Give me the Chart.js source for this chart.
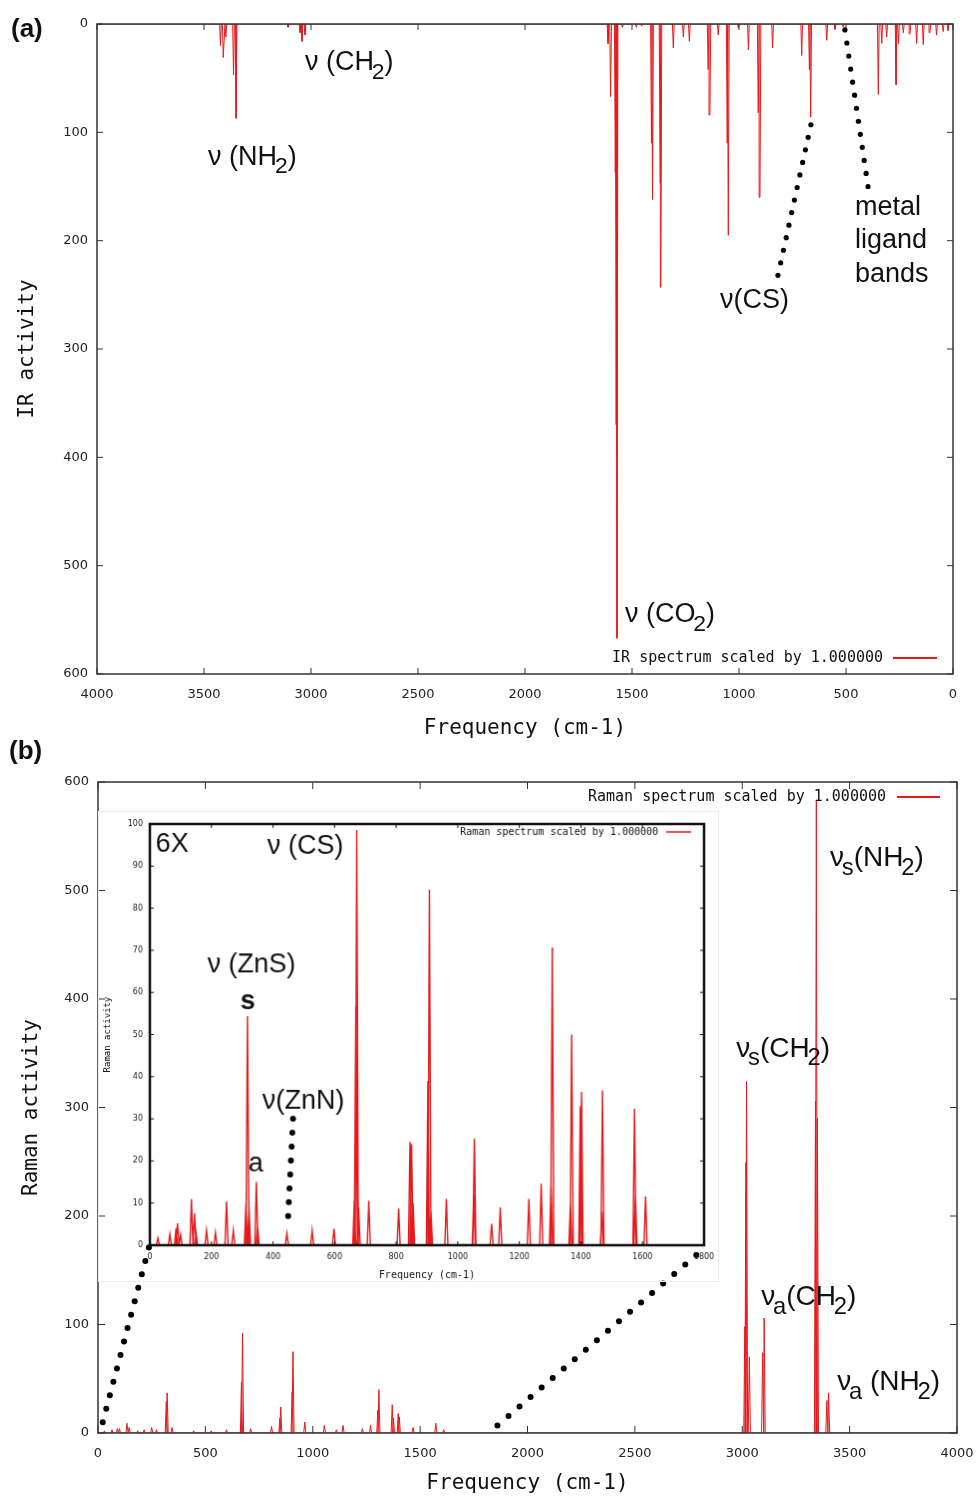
<!DOCTYPE html>
<html>
<head>
<meta charset="utf-8">
<script src="https://cdn.jsdelivr.net/npm/chart.js@4.4.1/dist/chart.umd.min.js"></script>
<style>
  body { margin: 0; background: #fff; }
  #wrap { position: relative; width: 980px; height: 1496px; overflow: hidden; }
  canvas { position: absolute; }
  #irChart { left: 0; top: 0; }
  #ramanChart { left: 0; top: 720px; }
  #insetChart { left: 98px; top: 811px; border: 1px solid #ececec; }
</style>
</head>
<body>
<div id="wrap">
  <canvas id="irChart" width="980" height="750"></canvas>
  <canvas id="ramanChart" width="980" height="776"></canvas>
  <canvas id="insetChart" width="621" height="471"></canvas>
</div>
<script>
const RED = "rgb(228,26,28)";

// (a) IR spectrum: band positions (cm-1) and IR activity
const irFreq = [23, 46, 77, 108, 139, 170, 201, 232, 255, 266, 310, 333, 349, 513, 551, 590,
  665, 671, 707, 843, 902, 910, 956, 1003, 1050, 1055, 1097, 1136, 1144, 1232, 1260, 1307,
  1365, 1369, 1404, 1409, 1455, 1480, 1545, 1570, 1574, 1578, 1600, 1612,
  3028, 3042, 3051, 3107, 3350, 3362, 3398, 3410, 3423];
const irAct = [6, 7, 10, 8, 19, 18, 9, 8, 18, 56, 12, 18, 65, 3, 5, 15,
  86, 42, 29, 22, 160, 82, 24, 4, 195, 110, 10, 84, 42, 16, 12, 22,
  243, 147, 162, 110, 2, 3, 3, 567, 370, 137, 67, 18,
  10, 16, 8, 3, 87, 47, 12, 31, 20];

// (b) Raman spectrum
const ramanFreq = [30, 65, 90, 100, 135, 145, 185, 215, 250, 272, 318, 322, 345, 445, 527, 598,
  668, 673, 711, 808, 847, 851, 904, 908, 963, 1054, 1110, 1141, 1231, 1269, 1303, 1308,
  1370, 1376, 1398, 1403, 1467, 1573, 1610,
  3012, 3017, 3020, 3033, 3095, 3102, 3341, 3345, 3350, 3394, 3402];
const ramanAct = [2, 3, 4, 4, 9, 5, 2, 3, 5, 3, 29, 37, 5, 2, 2, 3,
  47, 92, 4, 6, 14, 24, 38, 75, 10, 7, 3, 7, 4, 7, 21, 40,
  26, 14, 18, 15, 5, 9, 3,
  98, 249, 324, 70, 74, 106, 306, 583, 290, 30, 37];

// inset (6X, 0-1800 cm-1)
const insetFreq = [26, 65, 85, 90, 100, 135, 145, 150, 184, 213, 249, 271, 312, 317, 322, 346, 350,
  445, 527, 598, 664, 669, 672, 678, 711, 808, 845, 850, 855, 903, 908, 913, 963,
  1052, 1054, 1110, 1138, 1231, 1271, 1303, 1307, 1366, 1370, 1398, 1402, 1468, 1470,
  1574, 1577, 1610];
const insetAct = [1.7, 2.6, 4, 5.2, 2.5, 10.9, 7.5, 3, 3.5, 3.0, 10.4, 3.5, 10, 54.4, 9, 15, 4.5,
  2.8, 3.5, 3.9, 10.6, 56.7, 98.6, 9, 10.6, 8.7, 24.5, 24, 10, 39, 84.4, 8, 11,
  12, 25.3, 5.1, 9, 11, 14.6, 15, 70.7, 10, 50, 33, 36.4, 8, 36.7,
  32.4, 12, 11.6];

// tick labels
const irXTicks = [4000, 3500, 3000, 2500, 2000, 1500, 1000, 500, 0];
const irYTicks = [0, 100, 200, 300, 400, 500, 600];
const ramanXTicks = [0, 500, 1000, 1500, 2000, 2500, 3000, 3500, 4000];
const ramanYTicks = [0, 100, 200, 300, 400, 500, 600];
const insetXTicks = [0, 200, 400, 600, 800, 1000, 1200, 1400, 1600, 1800];
const insetYTicks = [0, 10, 20, 30, 40, 50, 60, 70, 80, 90, 100];

// each band becomes a narrow stick for the line dataset
function sticks(freq, act, hw, lo, hi) {
  const pts = [{ x: lo, y: 0 }];
  freq.forEach((f, i) => {
    pts.push({ x: f - hw, y: 0 }, { x: f, y: act[i] }, { x: f + hw, y: 0 });
  });
  pts.push({ x: hi, y: 0 });
  return pts;
}

// text with "_" meaning: next character is a subscript
function drawLabel(ctx, px, py, text, size, weight) {
  let cx = px, sub = false;
  for (const ch of text) {
    if (ch === "_") { sub = true; continue; }
    const fs = sub ? size * 0.85 : size;
    ctx.font = (weight || "normal") + " " + fs + "px 'Liberation Sans', Arial, sans-serif";
    if (sub) cx -= size * 0.08;
    ctx.fillText(ch, cx, py + (sub ? size * 0.32 : 0));
    cx += ctx.measureText(ch).width;
    sub = false;
  }
}

function decor(cfg) {
  return {
    id: "decor",
    afterDatasetsDraw(chart) {
      const { ctx, chartArea: a, scales: { x, y } } = chart;
      ctx.save();
      // box + inward ticks
      ctx.strokeStyle = cfg.frameColor;
      ctx.lineWidth = cfg.frameWidth;
      ctx.strokeRect(a.left, a.top, a.right - a.left, a.bottom - a.top);
      ctx.lineWidth = 1;
      ctx.beginPath();
      x.ticks.forEach(t => {
        const px = x.getPixelForValue(t.value);
        ctx.moveTo(px, a.bottom); ctx.lineTo(px, a.bottom - cfg.tick);
        ctx.moveTo(px, a.top); ctx.lineTo(px, a.top + cfg.tick);
      });
      y.ticks.forEach(t => {
        const py = y.getPixelForValue(t.value);
        ctx.moveTo(a.left, py); ctx.lineTo(a.left + cfg.tick, py);
        ctx.moveTo(a.right, py); ctx.lineTo(a.right - cfg.tick, py);
      });
      ctx.stroke();

      // key
      const lg = cfg.legend;
      const ly = lg.top ? a.top + lg.dy : a.bottom - lg.dy;
      ctx.fillStyle = "#111";
      ctx.font = lg.size + "px 'DejaVu Sans Mono', monospace";
      ctx.textAlign = "right";
      ctx.textBaseline = "middle";
      ctx.fillText(chart.data.datasets[0].label, a.right - lg.textEnd, ly);
      ctx.strokeStyle = RED;
      ctx.lineWidth = lg.lw;
      ctx.beginPath();
      ctx.moveTo(a.right - lg.l1, ly); ctx.lineTo(a.right - lg.l2, ly);
      ctx.stroke();

      // dotted leader lines
      ctx.fillStyle = "#000";
      (cfg.dots || []).forEach(d => {
        const x1 = x.getPixelForValue(d.x1), y1 = y.getPixelForValue(d.y1);
        const x2 = x.getPixelForValue(d.x2), y2 = y.getPixelForValue(d.y2);
        for (let i = 0; i < d.n; i++) {
          const t = i / (d.n - 1);
          ctx.beginPath();
          ctx.arc(x1 + (x2 - x1) * t, y1 + (y2 - y1) * t, cfg.dotR, 0, Math.PI * 2);
          ctx.fill();
        }
      });

      // annotations
      ctx.textAlign = "left";
      ctx.textBaseline = "alphabetic";
      ctx.fillStyle = "#111";
      (cfg.notes || []).forEach(n => {
        drawLabel(ctx, x.getPixelForValue(n.x), y.getPixelForValue(n.y), n.t, n.size, n.weight);
      });
      if (cfg.panel) {
        drawLabel(ctx, cfg.panel.x, cfg.panel.y, cfg.panel.t, 26, "bold");
      }
      ctx.restore();
    }
  };
}

function axis(opts) {
  return {
    type: "linear",
    min: opts.min, max: opts.max, reverse: !!opts.reverse,
    afterBuildTicks: s => { s.ticks = opts.ticks.map(v => ({ value: v })); },
    afterFit: s => {
      if (opts.width) s.width = opts.width;
      if (opts.height) { s.height = opts.height; s.paddingLeft = 0; s.paddingRight = 0; }
    },
    grid: { display: false, drawTicks: false },
    border: { display: false },
    ticks: {
      padding: opts.pad, color: "#222", maxRotation: 0, autoSkip: false,
      callback: v => String(v),
      font: { family: "'DejaVu Sans', sans-serif", size: opts.tickSize }
    },
    title: {
      display: true, text: opts.title, color: "#111",
      font: { family: "'DejaVu Sans Mono', monospace", size: opts.titleSize },
      padding: opts.titlePad
    }
  };
}

function baseOptions(pad, xs, ys) {
  return {
    responsive: false,
    animation: false,
    events: [],
    layout: { padding: pad },
    plugins: { legend: { display: false }, tooltip: { enabled: false } },
    scales: { x: xs, y: ys }
  };
}

// (a) IR
new Chart(document.getElementById("irChart"), {
  type: "line",
  data: {
    datasets: [{
      label: "IR spectrum scaled by 1.000000",
      data: sticks(irFreq, irAct, 4, 0, 4000),
      borderColor: RED, borderWidth: 1, pointRadius: 0, tension: 0, fill: false
    }]
  },
  options: baseOptions({ top: 24, right: 27, left: 0, bottom: 0 },
    axis({ min: 0, max: 4000, reverse: true, ticks: irXTicks, height: 76, pad: 13, tickSize: 13,
      title: "Frequency (cm-1)", titleSize: 21, titlePad: { top: 0, bottom: 9 } }),
    axis({ min: 0, max: 600, reverse: true, ticks: irYTicks, width: 97, pad: 9, tickSize: 13,
      title: "IR activity", titleSize: 21, titlePad: { top: 15, bottom: 0 } })),
  plugins: [decor({
    frameColor: "#333", frameWidth: 1.5, tick: 6, dotR: 2.6,
    legend: { top: false, dy: 16, textEnd: 70, l1: 60, l2: 16, size: 15, lw: 2 },
    dots: [
      { x1: 664, y1: 93, x2: 818, y2: 232, n: 13 },
      { x1: 505, y1: 5.5, x2: 397, y2: 150, n: 13 }
    ],
    notes: [
      { x: 3028, y: 42.5, t: "ν (CH_2)", size: 27 },
      { x: 3481, y: 130, t: "ν (NH_2)", size: 27 },
      { x: 458, y: 176, t: "metal", size: 27 },
      { x: 458, y: 207, t: "ligand", size: 27 },
      { x: 458, y: 238, t: "bands", size: 27 },
      { x: 1089, y: 262, t: "ν(CS)", size: 27 },
      { x: 1533, y: 552, t: "ν (CO_2)", size: 27 }
    ],
    panel: { x: 11, y: 37, t: "(a)" }
  })]
});

// (b) Raman
new Chart(document.getElementById("ramanChart"), {
  type: "line",
  data: {
    datasets: [{
      label: "Raman spectrum scaled by 1.000000",
      data: sticks(ramanFreq, ramanAct, 5, 0, 4000),
      borderColor: RED, borderWidth: 1, pointRadius: 0, tension: 0, fill: false
    }]
  },
  options: baseOptions({ top: 62, right: 23, left: 0, bottom: 0 },
    axis({ min: 0, max: 4000, ticks: ramanXTicks, height: 63, pad: 13, tickSize: 13,
      title: "Frequency (cm-1)", titleSize: 21, titlePad: { top: 0, bottom: 0 } }),
    axis({ min: 0, max: 600, ticks: ramanYTicks, width: 98, pad: 9, tickSize: 13,
      title: "Raman activity", titleSize: 21, titlePad: { top: 19, bottom: 0 } })),
  plugins: [decor({
    frameColor: "#333", frameWidth: 1.5, tick: 7, dotR: 3,
    legend: { top: true, dy: 15, textEnd: 71, l1: 60, l2: 17, size: 15, lw: 2 },
    dots: [
      { x1: 237, y1: 171, x2: 22, y2: 10, n: 14 },
      { x1: 2786, y1: 164, x2: 1860, y2: 7, n: 19 }
    ],
    notes: [
      { x: 3409, y: 523, t: "ν_s(NH_2)", size: 28 },
      { x: 2972, y: 347, t: "ν_s(CH_2)", size: 28 },
      { x: 3088, y: 118, t: "ν_a(CH_2)", size: 28 },
      { x: 3442, y: 40, t: "ν_a (NH_2)", size: 28 }
    ],
    panel: { x: 9, y: 39, t: "(b)" }
  })]
});

// inset of (b)
new Chart(document.getElementById("insetChart"), {
  type: "line",
  data: {
    datasets: [{
      label: "Raman spectrum scaled by 1.000000",
      data: sticks(insetFreq, insetAct, 5, 0, 1800),
      borderColor: RED, borderWidth: 1.4, pointRadius: 0, tension: 0, fill: false
    }]
  },
  options: baseOptions({ top: 12, right: 14, left: 0, bottom: 0 },
    axis({ min: 0, max: 1800, ticks: insetXTicks, height: 36, pad: 7, tickSize: 8,
      title: "Frequency (cm-1)", titleSize: 10, titlePad: { top: 0, bottom: 0 } }),
    axis({ min: 0, max: 100, ticks: insetYTicks, width: 51, pad: 7, tickSize: 8,
      title: "Raman activity", titleSize: 9, titlePad: { top: 3, bottom: 0 } })),
  plugins: [decor({
    frameColor: "#111", frameWidth: 2.5, tick: 4, dotR: 3,
    legend: { top: true, dy: 8, textEnd: 46, l1: 38, l2: 13, size: 10, lw: 1.5 },
    dots: [
      { x1: 465, y1: 30, x2: 449, y2: 6.9, n: 8 }
    ],
    notes: [
      { x: 19, y: 93.4, t: "6X", size: 27 },
      { x: 381, y: 93, t: "ν (CS)", size: 27 },
      { x: 187, y: 64.8, t: "ν (ZnS)", size: 27 },
      { x: 294, y: 56, t: "s", size: 27, weight: "bold" },
      { x: 365, y: 32.4, t: "ν(ZnN)", size: 27 },
      { x: 320, y: 17.5, t: "a", size: 27 }
    ]
  })]
});
</script>
</body>
</html>
